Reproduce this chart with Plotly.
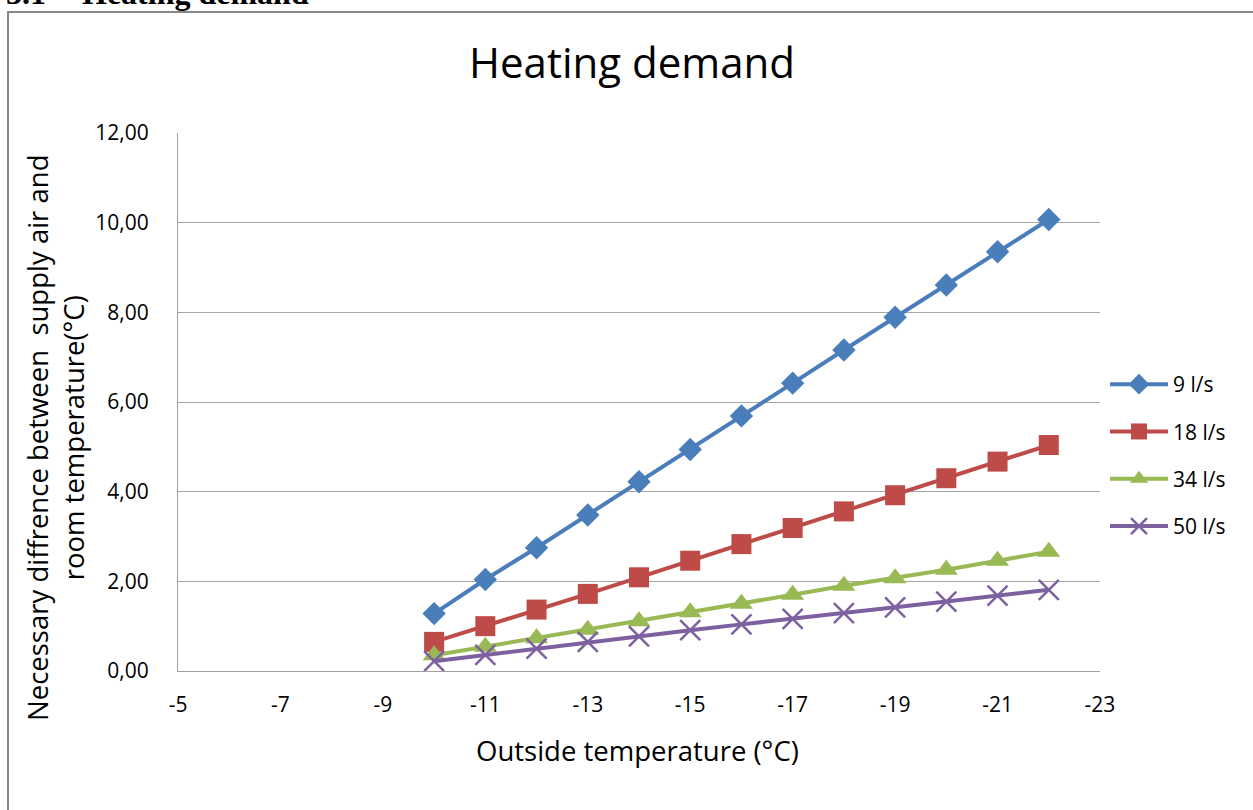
import plotly.graph_objects as go

# ---- data ----
outside_temp = [-10, -11, -12, -13, -14, -15, -16, -17, -18, -19, -20, -21, -22]
flow_9 = [1.28, 2.04, 2.75, 3.48, 4.22, 4.94, 5.69, 6.42, 7.16, 7.89, 8.61, 9.35, 10.07]
flow_18 = [0.65, 1.00, 1.37, 1.72, 2.09, 2.46, 2.83, 3.19, 3.56, 3.92, 4.30, 4.67, 5.04]
flow_34 = [0.35, 0.54, 0.73, 0.92, 1.11, 1.31, 1.50, 1.70, 1.90, 2.07, 2.26, 2.46, 2.66]
flow_50 = [0.22, 0.36, 0.50, 0.65, 0.77, 0.91, 1.04, 1.16, 1.29, 1.42, 1.55, 1.68, 1.81]
series_names = ["9 l/s", "18 l/s", "34 l/s", "50 l/s"]
x_tick_vals = [-5, -7, -9, -11, -13, -15, -17, -19, -21, -23]
x_tick_text = ["-5", "-7", "-9", "-11", "-13", "-15", "-17", "-19", "-21", "-23"]
y_tick_vals = [0, 2, 4, 6, 8, 10, 12]

FONT = "Open Sans"
W, H = 1253, 810
L, R, T, B = 178, 153, 133, 139
PW, PH = W - L - R, H - T - B


def px(x):
    return (x - L) / PW


def py(y):
    return (H - B - y) / PH


styles = [
    dict(color="#4A7EBB", symbol="diamond", size=18, lw=4),
    dict(color="#BE4B48", symbol="square", size=20, lw=4),
    dict(color="#98B954", symbol="triangle-up", size=20, lw=4),
    dict(color="#7D60A0", symbol="x-thin", size=20, lw=4),
]

fig = go.Figure()
for i, (name, vals) in enumerate(zip(series_names, [flow_9, flow_18, flow_34, flow_50])):
    s = styles[i]
    marker = dict(symbol=s["symbol"], size=s["size"], color=s["color"])
    if s["symbol"] == "x-thin":
        marker["line"] = dict(color=s["color"], width=2.5)
    fig.add_trace(go.Scatter(
        x=outside_temp, y=vals, name=name, mode="lines+markers",
        line=dict(color=s["color"], width=s["lw"]),
        marker=marker, legendgroup=name,
    ))

fig.update_layout(
    width=W, height=H,
    margin=dict(l=L, r=R, t=T, b=B, autoexpand=False),
    paper_bgcolor="white", plot_bgcolor="white",
    separators=", ",
    font=dict(family=FONT, color="#000000", size=22),
    title=dict(text="Heating demand", x=px(632), xref="paper", xanchor="center",
               y=1 - 63 / H, yref="container", yanchor="middle",
               font=dict(family=FONT, size=42, color="#000000")),
    showlegend=True,
    legend=dict(x=px(1105), y=py(364), xanchor="left", yanchor="top",
                font=dict(family=FONT, size=21), tracegroupgap=17,
                itemwidth=58, bgcolor="rgba(0,0,0,0)"),
    xaxis=dict(range=[-5, -23], tickvals=x_tick_vals, ticktext=x_tick_text,
               showgrid=False, zeroline=False, showline=True, linecolor="#A0A0A0",
               linewidth=1, ticks="", ticklabelstandoff=15,
               tickfont=dict(family=FONT, size=21)),
    yaxis=dict(range=[0, 12], tickvals=y_tick_vals, tickformat=".2f",
               showgrid=True, gridcolor="#A6A6A6", gridwidth=1, zeroline=False,
               showline=True, linecolor="#A0A0A0", linewidth=1, ticks="",
               ticklabelstandoff=24, tickfont=dict(family=FONT, size=21)),
)

fig.add_annotation(text="Outside temperature (°C)", xref="paper", yref="paper",
                   x=px(637), y=py(750), xanchor="center", yanchor="middle",
                   showarrow=False, font=dict(family=FONT, size=27.5))
fig.add_annotation(text="Necessary diffrence between  supply air and<br>room temperature(°C)",
                   xref="paper", yref="paper", x=px(55), y=py(438),
                   xanchor="center", yanchor="middle", textangle=-90,
                   showarrow=False, font=dict(family=FONT, size=27.5))

# cropped heading of the document above the chart
fig.add_annotation(text="<b>3.1</b>", xref="paper", yref="paper", x=px(4), y=py(13),
                   xanchor="left", yanchor="bottom", showarrow=False,
                   font=dict(family="Liberation Serif", size=32))
fig.add_annotation(text="<b>Heating demand</b>", xref="paper", yref="paper", x=px(80), y=py(13),
                   xanchor="left", yanchor="bottom", showarrow=False,
                   font=dict(family="Liberation Serif", size=32))

# chart frame
fig.add_shape(type="rect", xref="paper", yref="paper",
              x0=px(8), y0=py(820), x1=px(1270), y1=py(12),
              line=dict(color="#888888", width=2), fillcolor="rgba(0,0,0,0)", layer="below")

fig.write_html("out.html")
